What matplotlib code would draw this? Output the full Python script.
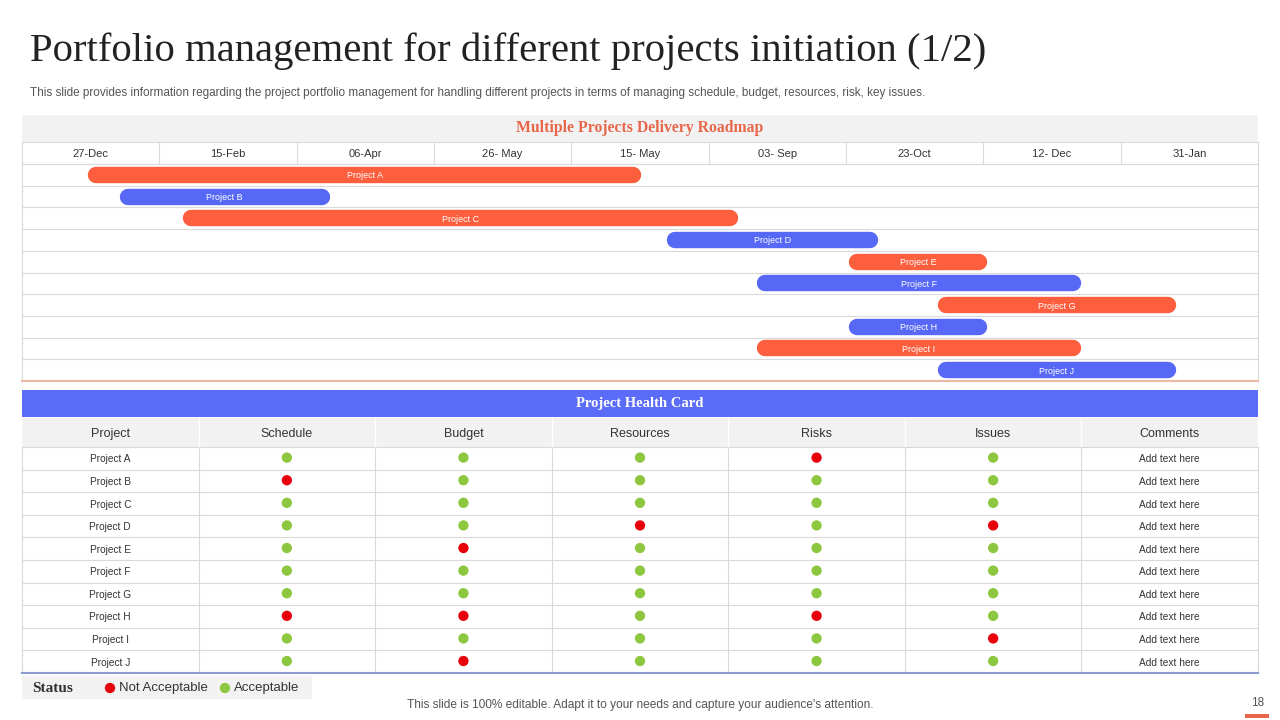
import numpy as np
import matplotlib
matplotlib.use("Agg")
import matplotlib.pyplot as plt
from matplotlib.patches import Rectangle

plt.rcParams['font.family'] = ['Liberation Sans', 'DejaVu Sans']

# data
date_labels = ['27-Dec', '15-Feb', '06-Apr', '26- May', '15- May', '03- Sep', '23-Oct', '12- Dec', '31-Jan']
projects = ['Project A', 'Project B', 'Project C', 'Project D', 'Project E',
            'Project F', 'Project G', 'Project H', 'Project I', 'Project J']
# start / end in timeline column units (0 = left edge of 27-Dec column)
starts = [0.48, 0.71, 1.17, 4.70, 6.02, 5.35, 6.67, 6.02, 5.35, 6.67]
ends = [4.51, 2.24, 5.21, 6.23, 7.03, 7.71, 8.40, 7.03, 7.71, 8.40]
bar_kind = ['o', 'b', 'o', 'b', 'o', 'b', 'o', 'b', 'o', 'b']

health_cols = ['Project', 'Schedule', 'Budget', 'Resources', 'Risks', 'Issues', 'Comments']
# 1 = acceptable, 0 = not acceptable; columns Schedule..Issues
health = [
    [1, 1, 1, 0, 1],
    [0, 1, 1, 1, 1],
    [1, 1, 1, 1, 1],
    [1, 1, 0, 1, 0],
    [1, 0, 1, 1, 1],
    [1, 1, 1, 1, 1],
    [1, 1, 1, 1, 1],
    [0, 0, 1, 0, 1],
    [1, 1, 1, 1, 0],
    [1, 0, 1, 1, 1],
]
comments = ['Add text here'] * 10

ORANGE = '#FD5E3E'
BLUE = '#5668F5'
GREEN = '#8DC63F'
RED = '#E8000B'
GRID = '#DADADA'
GRAY_BG = '#F2F2F2'
SERIF = ['Liberation Serif', 'DejaVu Serif']

W, H = 1280, 720
fig = plt.figure(figsize=(12.8, 7.2), dpi=100)
fig.patch.set_facecolor('white')

# background axes in pixel coords
bg = fig.add_axes([0, 0, 1, 1])
bg.set_xlim(0, W)
bg.set_ylim(H, 0)
bg.axis('off')


def frac(x0, y0, x1, y1):
    return [x0 / W, 1 - y1 / H, (x1 - x0) / W, (y1 - y0) / H]


bg.text(30, 51, 'Portfolio management for different projects initiation (1/2)',
        fontsize=29.3, family=SERIF, color='#222222', va='center', ha='left')
bg.text(30, 93, 'This slide provides information regarding the project portfolio management for handling different projects in terms of managing schedule, budget, resources, risk, key issues.',
        fontsize=8.5, color='#555555', va='center', ha='left')

# roadmap title band
L, R = 22, 1258
bg.add_patch(Rectangle((L, 115), R - L, 27, color=GRAY_BG, lw=0))
bg.text((L + R) / 2, 128.5, 'Multiple Projects Delivery Roadmap', fontsize=11.3,
        family=SERIF, weight='bold', color='#E8664A', ha='center', va='center')

# gantt header + body
gh = fig.add_axes(frac(L, 142, R, 164))
gh.set_xlim(0, 9)
gh.set_ylim(0, 1)
gh.set_xticks([])
gh.set_yticks([])
for s in gh.spines.values():
    s.set_color(GRID)
for i, d in enumerate(date_labels):
    gh.text(i + 0.5, 0.5, d, ha='center', va='center_baseline', fontsize=8, color='#333333')
    if i > 0:
        gh.axvline(i, color=GRID, lw=0.8)

gx = fig.add_axes(frac(L, 164, R, 381))
gx.set_xlim(0, 9)
gx.set_ylim(10, 0)
gx.set_xticks([])
gx.set_yticks([])
for s in gx.spines.values():
    s.set_color(GRID)
gx.spines['bottom'].set_color('#EDB9A6')
gx.spines['bottom'].set_linewidth(1.5)
for r in range(1, 10):
    gx.axhline(r, color=GRID, lw=0.8)

cap = 8 / 137.3  # half bar height in column units
for i, p in enumerate(projects):
    c = ORANGE if bar_kind[i] == 'o' else BLUE
    gx.plot([starts[i] + cap, ends[i] - cap], [i + 0.5, i + 0.5], color=c,
            lw=11.8, solid_capstyle='round')
    gx.text((starts[i] + ends[i]) / 2, i + 0.5, p, ha='center', va='center_baseline',
            fontsize=6.5, color='white')

# health card
bg.add_patch(Rectangle((L, 390), R - L, 27, color='#5A6CF8', lw=0))
bg.text((L + R) / 2, 403.5, 'Project Health Card', fontsize=10.5,
        family=SERIF, weight='bold', color='white', ha='center', va='center')

hh = fig.add_axes(frac(L, 418, R, 447))
hh.set_xlim(0, 7)
hh.set_ylim(0, 1)
hh.set_facecolor(GRAY_BG)
hh.set_xticks([])
hh.set_yticks([])
for s in hh.spines.values():
    s.set_visible(False)
for i, c in enumerate(health_cols):
    hh.text(i + 0.5, 0.5, c, ha='center', va='center_baseline', fontsize=9, color='#333333')
    if i > 0:
        hh.axvline(i, color='white', lw=1)

hx = fig.add_axes(frac(L, 447, R, 673))
hx.set_xlim(0, 7)
hx.set_ylim(10, 0)
hx.set_xticks([])
hx.set_yticks([])
for s in hx.spines.values():
    s.set_color(GRID)
hx.spines['bottom'].set_color('#8E9CCF')
hx.spines['bottom'].set_linewidth(1.5)
for r in range(1, 10):
    hx.axhline(r, color=GRID, lw=0.8)
for c in range(1, 7):
    hx.axvline(c, color=GRID, lw=0.8)

for i, p in enumerate(projects):
    hx.text(0.5, i + 0.5, p, ha='center', va='center_baseline', fontsize=7.3, color='#333333')
    hx.text(6.5, i + 0.5, comments[i], ha='center', va='center_baseline', fontsize=7.3, color='#333333')
    vals = np.array(health[i])
    xs = np.arange(1, 6) + 0.5
    hx.scatter(xs, [i + 0.47] * 5, s=55, c=[GREEN if v else RED for v in vals],
               edgecolors='none', zorder=3)

# status legend
bg.add_patch(Rectangle((L, 676), 290, 23, color=GRAY_BG, lw=0))
bg.text(32, 688, 'Status', fontsize=11, family=SERIF, weight='bold',
        color='#333333', va='center')
bg.scatter([110, 225], [688, 688], s=55, c=[RED, GREEN], edgecolors='none')
bg.text(119, 688, 'Not Acceptable', fontsize=9.5, color='#333333', va='center')
bg.text(234, 688, 'Acceptable', fontsize=9.5, color='#333333', va='center')

# footer
bg.text(640, 705, "This slide is 100% editable. Adapt it to your needs and capture your audience's attention.",
        fontsize=8.6, color='#555555', ha='center', va='center')
bg.text(1258, 703, '18', fontsize=8.5, color='#555555', ha='center', va='center')
bg.add_patch(Rectangle((1245, 714), 24, 4, color='#E8664A', lw=0))

fig.savefig('out.png', dpi=100)
